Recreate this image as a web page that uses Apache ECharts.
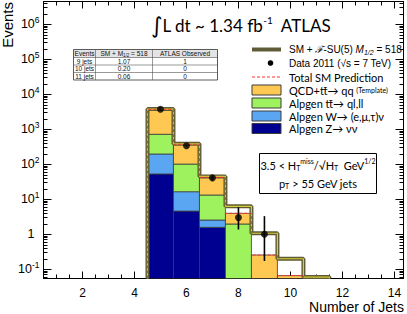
<!DOCTYPE html>
<html><head><meta charset="utf-8">
<script src="https://cdn.jsdelivr.net/npm/echarts@6/dist/echarts.min.js"></script>
<style>html,body{margin:0;padding:0;background:#fff}#c{width:407px;height:314px}</style>
</head><body><div id="c"></div>
<script>
// ---------------- data ----------------
const binCenters = [5, 6, 7, 8, 9, 10, 11];
const zNuNu = [53, 4.6, 1.58, 0, 0, 0, 0];
const wLepNu = [144, 11.9, 0.98, 0, 0, 0, 0];
const ttbarLep = [523, 85, 10.7, 1.97, 0, 0, 0];
const qcdTemplate = [3006, 271, 29.2, 2.0, 0.256, 0.066, 0];
const signalPlusSM = [3780, 385, 45, 6.3, 1.07, 0.20, 0.06];
const dataJets = [5, 6, 7, 8, 9];
const dataEvents = [3720, 340, 41, 3, 1];
const dataErrLow = [3660, 322, 35, 1.37, 0.173];
const dataErrHigh = [3780, 358, 48, 5.92, 3.3];
const xTickLabels = [2, 4, 6, 8, 10, 12, 14];
const yTickExponents = [-1, 0, 1, 2, 3, 4, 5, 6];
const tableJets = ['9 jets', '10 jets', '11 jets'];
const tableSignal = ['1.07', '0.20', '0.06'];
const tableObserved = ['1', '0', '0'];

// ---------------- layout ----------------
const X_MIN = 0.5, X_MAX = 14.35, Y_MIN = 0.0546, Y_MAX = 4.48e6;
const SANS = '"Liberation Sans", Arial, sans-serif';
const HUM = 'Lato, "Open Sans", sans-serif';

const xMinor = [];
for (let v = 1; v <= 14; v += 0.5) if (xTickLabels.indexOf(v) < 0) xMinor.push(v);
const yMajor = yTickExponents.map(e => Math.pow(10, e));
const yMinor = [];
for (let k = -2; k <= 6; k++) for (let m = 2; m <= 9; m++) {
  const v = m * Math.pow(10, k);
  if (v > Y_MIN && v < Y_MAX) yMinor.push(v);
}

const comps = [
  { vals: zNuNu, color: '#000090' },
  { vals: wLepNu, color: '#5aa6f2' },
  { vals: ttbarLep, color: '#9ef25e' },
  { vals: qcdTemplate, color: '#fec852' }
];
const cum = binCenters.map(() => 0);
const stackSeries = comps.map((c, ci) => {
  const d = binCenters.map((x, i) => {
    const lo = cum[i]; const hi = lo + c.vals[i]; cum[i] = hi;
    return [x, lo, hi];
  });
  return {
    type: 'custom', z: 2, clip: true, encode: { x: 0, y: [1, 2] }, data: d,
    renderItem: function (params, api) {
      const x = api.value(0), lo = api.value(1), hi = api.value(2);
      if (!(hi > lo) || hi <= Y_MIN) return null;
      const a = api.coord([x - 0.5, hi]);
      const b = api.coord([x + 0.5, Math.max(lo, Y_MIN)]);
      return { type: 'rect', shape: { x: a[0], y: a[1], width: b[0] - a[0], height: b[1] - a[1] },
        style: { fill: c.color, stroke: '#3c3c3c', lineWidth: 0.8 } };
    }
  };
});
const smTotal = cum.slice();

function stepPoints(vals) {
  const pts = [];
  vals.forEach((v, i) => {
    const y = v > Y_MIN ? v : Y_MIN;
    pts.push([binCenters[i] - 0.5, y], [binCenters[i] + 0.5, y]);
  });
  pts.unshift([binCenters[0] - 0.5, Y_MIN]);
  pts.push([binCenters[vals.length - 1] + 0.5, Y_MIN]);
  return pts;
}

const axisCommonX = { type: 'value', min: X_MIN, max: X_MAX, splitLine: { show: false } };
const axisCommonY = { type: 'log', min: Y_MIN, max: Y_MAX, logBase: 10, splitLine: { show: false } };
const black = { color: '#000', width: 1 };

const yLabelFmt = function (v) {
  const e = Math.log10(v), r = Math.round(e);
  if (Math.abs(e - r) > 1e-6) return '';
  if (r === 0) return '{one|1}';
  return '{b|10}{s|' + r + '}';
};

// ---------------- graphics (legend, table, texts) ----------------
const g = [];
g.push({ type: 'text', x: 7, y: 2, rotation: Math.PI / 2,
  style: { text: 'Events', fontSize: 15, fontFamily: SANS, fill: '#000', align: 'right', verticalAlign: 'middle' } });
g.push({ type: 'text', x: 404, y: 307,
  style: { text: 'Number of Jets', fontSize: 14, fontFamily: SANS, fill: '#000', align: 'right', verticalAlign: 'middle' } });
g.push({ type: 'text', x: 151, y: 25,
  style: { text: '{i|∫}{t|L dt ~ 1.34 fb}{s|-1}{t|  ATLAS}', align: 'left', verticalAlign: 'middle',
    rich: {
      i: { fontSize: 22, fontFamily: '"DejaVu Sans", sans-serif', fill: '#000' },
      t: { fontSize: 17, fontFamily: HUM, fill: '#000' },
      s: { fontSize: 10, fontFamily: HUM, fill: '#000', padding: [0, 0, 10, 0] }
    } } });
// legend
const legX = 252, legW = 29, legTx = 289;
const legRows = [49.5, 63, 77, 90, 103, 116, 128.5];
g.push({ type: 'line', shape: { x1: legX, y1: legRows[0], x2: legX + legW, y2: legRows[0] }, style: { stroke: '#5e5b36', lineWidth: 4 } });
g.push({ type: 'circle', shape: { cx: legX + 18.5, cy: legRows[1], r: 2.8 }, style: { fill: '#000' } });
g.push({ type: 'line', shape: { x1: legX, y1: legRows[2], x2: legX + legW, y2: legRows[2] }, style: { stroke: '#ff3030', lineWidth: 1, lineDash: [3, 2] } });
[3, 2, 1, 0].forEach((ci, k) => {
  g.push({ type: 'rect', shape: { x: legX, y: legRows[3 + k] - 5, width: legW, height: 10 }, style: { fill: comps[ci].color, stroke: '#3c3c3c', lineWidth: 1 } });
});
const legRich = {
  a: { fontSize: 10, fontFamily: SANS, fill: '#000' },
  h: { fontSize: 11, fontFamily: HUM, fill: '#000' },
  f: { fontSize: 10, fontFamily: '"DejaVu Serif", serif', fontStyle: 'italic', fill: '#000' },
  i: { fontSize: 10, fontFamily: SANS, fontStyle: 'italic', fill: '#000' },
  sub: { fontSize: 7, fontFamily: SANS, fontStyle: 'italic', fill: '#000', padding: [5, 0, 0, 0] },
  sm: { fontSize: 7, fontFamily: HUM, fill: '#000' }
};
const legTexts = [
  '{a|SM + }{f|ℱ}{a|-SU(5) }{i|M}{sub|1/2}{a| = 518}',
  '{a|Data 2011 (√s = 7 TeV)}',
  '{h|Total SM Prediction}',
  '{h|QCD+tt\u0304→ qq }{sm|(Template)}',
  '{h|Alpgen tt\u0304→ ql,ll}',
  '{h|Alpgen W→ (e,μ,τ)ν}',
  '{h|Alpgen Z→ νν}'
];
legTexts.forEach((t, k) => {
  g.push({ type: 'text', x: legTx, y: legRows[k], style: { text: t, rich: legRich, align: 'left', verticalAlign: 'middle' } });
});
// cut box
g.push({ type: 'rect', shape: { x: 259.5, y: 153.5, width: 117, height: 40 }, style: { fill: '#fff', stroke: '#000', lineWidth: 1 } });
const cutRich = {
  n: { fontSize: 11, fontFamily: HUM, fill: '#000' },
  sup: { fontSize: 7, fontFamily: HUM, fill: '#000', padding: [0, 0, 9, 0] },
  sub: { fontSize: 7, fontFamily: HUM, fill: '#000', padding: [6, 0, 0, 0] }
};
g.push({ type: 'text', x: 318, y: 165, style: { text: '{n|3.5 < H}{sub|T}{sup|miss}{n|/√H}{sub|T}{n|  GeV}{sup|1/2}', rich: cutRich, align: 'center', verticalAlign: 'middle' } });
g.push({ type: 'text', x: 318, y: 183, style: { text: '{n|p}{sub|T}{n| > 55 GeV jets}', rich: cutRich, align: 'center', verticalAlign: 'middle' } });
// table
const tX = [73.5, 95.5, 152.5, 217.5], tY0 = 49.5, tHead = 8, tRow = 7.5;
const tRich = {
  c: { fontSize: 6.5, fontFamily: SANS, fill: '#111' },
  sub: { fontSize: 4.5, fontFamily: SANS, fill: '#111', padding: [3, 0, 0, 0] }
};
const tBottom = tY0 + tHead + tRow * tableJets.length;
g.push({ type: 'rect', shape: { x: tX[0], y: tY0, width: tX[3] - tX[0], height: tHead }, style: { fill: '#e4e4e4', stroke: 'none' } });
g.push({ type: 'rect', shape: { x: tX[0], y: tY0, width: tX[3] - tX[0], height: tBottom - tY0 }, style: { fill: 'none', stroke: '#333', lineWidth: 0.8 } });
[1, 2].forEach(j => g.push({ type: 'line', shape: { x1: tX[j], y1: tY0, x2: tX[j], y2: tBottom }, style: { stroke: '#555', lineWidth: 0.6 } }));
for (let r = 0; r < tableJets.length; r++) {
  const yy = tY0 + tHead + tRow * r;
  g.push({ type: 'line', shape: { x1: tX[0], y1: yy, x2: tX[3], y2: yy }, style: { stroke: '#555', lineWidth: 0.6 } });
}
const headCells = ['{c|Events}', '{c|SM + M}{sub|1/2}{c| = 518}', '{c|ATLAS Observed}'];
headCells.forEach((t, j) => g.push({ type: 'text', x: (tX[j] + tX[j + 1]) / 2, y: tY0 + tHead / 2, style: { text: t, rich: tRich, align: 'center', verticalAlign: 'middle' } }));
tableJets.forEach((jn, r) => {
  const yy = tY0 + tHead + tRow * r + tRow / 2;
  [jn, tableSignal[r], tableObserved[r]].forEach((t, j) => g.push({ type: 'text', x: (tX[j] + tX[j + 1]) / 2, y: yy, style: { text: '{c|' + t + '}', rich: tRich, align: 'center', verticalAlign: 'middle' } }));
});

// ---------------- chart ----------------
const chart = echarts.init(document.getElementById('c'), null, { renderer: 'svg' });
chart.setOption({
  animation: false,
  backgroundColor: '#fff',
  grid: { left: 43.5, right: 3.5, top: 1.5, bottom: 35.5 },
  xAxis: [
    Object.assign({}, axisCommonX, { position: 'bottom', axisLine: { lineStyle: black },
      axisTick: { inside: true, length: 7, lineStyle: black, customValues: xTickLabels },
      axisLabel: { customValues: xTickLabels, fontSize: 12, fontFamily: SANS, color: '#000', margin: 8 } }),
    Object.assign({}, axisCommonX, { position: 'bottom', axisLine: { show: false },
      axisTick: { inside: true, length: 4, lineStyle: black, customValues: xMinor }, axisLabel: { show: false } }),
    Object.assign({}, axisCommonX, { position: 'top', axisLine: { lineStyle: black },
      axisTick: { inside: true, length: 7, lineStyle: black, customValues: xTickLabels }, axisLabel: { show: false } }),
    Object.assign({}, axisCommonX, { position: 'top', axisLine: { show: false },
      axisTick: { inside: true, length: 4, lineStyle: black, customValues: xMinor }, axisLabel: { show: false } })
  ],
  yAxis: [
    Object.assign({}, axisCommonY, { position: 'left', axisLine: { lineStyle: black },
      axisTick: { inside: true, length: 8, lineStyle: black, customValues: yMajor },
      axisLabel: { customValues: yMajor, formatter: yLabelFmt, margin: 4, color: '#000',
        rich: { b: { fontSize: 12.5, fontFamily: SANS, color: '#000' },
                one: { fontSize: 12.5, fontFamily: SANS, color: '#000', padding: [0, 5, 0, 0] },
                s: { fontSize: 8.5, fontFamily: SANS, color: '#000', padding: [0, 0, 8, 0] } } } }),
    Object.assign({}, axisCommonY, { position: 'left', axisLine: { show: false },
      axisTick: { inside: true, length: 4, lineStyle: black, customValues: yMinor }, axisLabel: { show: false } }),
    Object.assign({}, axisCommonY, { position: 'right', axisLine: { lineStyle: black },
      axisTick: { inside: true, length: 8, lineStyle: black, customValues: yMajor }, axisLabel: { show: false } }),
    Object.assign({}, axisCommonY, { position: 'right', axisLine: { show: false },
      axisTick: { inside: true, length: 4, lineStyle: black, customValues: yMinor }, axisLabel: { show: false } })
  ],
  series: stackSeries.concat([
    { type: 'line', z: 3, data: stepPoints(signalPlusSM), symbol: 'none', lineStyle: { color: '#5e5b36', width: 4 }, clip: true },
    { type: 'line', z: 4, data: stepPoints(signalPlusSM), symbol: 'none', lineStyle: { color: '#d6cc3a', width: 1.2 }, clip: true },
    { type: 'line', z: 5, data: stepPoints(smTotal.slice(0, 6)), symbol: 'none', lineStyle: { color: '#ff3030', width: 1, type: [3, 2] }, clip: true },
    { type: 'custom', z: 6, encode: { x: 0, y: [1, 2] },
      data: dataJets.map((x, i) => [x, dataErrLow[i], dataErrHigh[i]]),
      renderItem: function (params, api) {
        const a = api.coord([api.value(0), api.value(1)]);
        const b = api.coord([api.value(0), api.value(2)]);
        return { type: 'line', shape: { x1: a[0], y1: a[1], x2: b[0], y2: b[1] }, style: { stroke: '#000', lineWidth: 1.6 } };
      } },
    { type: 'scatter', z: 7, data: dataJets.map((x, i) => [x, dataEvents[i]]), symbol: 'circle', symbolSize: 7, itemStyle: { color: '#000' } }
  ]),
  graphic: g
});
</script></body></html>
